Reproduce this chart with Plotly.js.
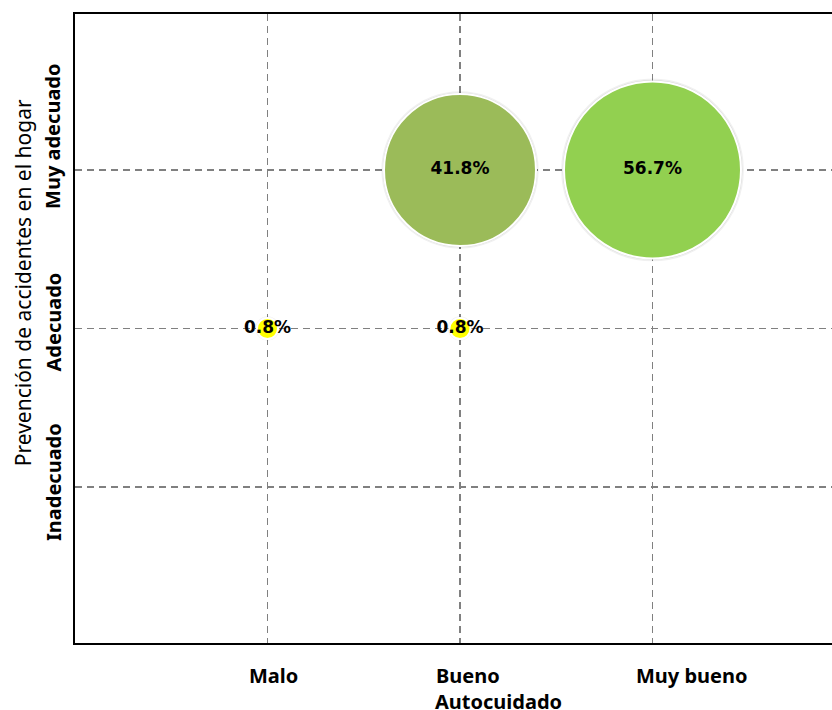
<!DOCTYPE html>
<html>
<head>
<meta charset="utf-8">
<script src="https://cdn.plot.ly/plotly-3.0.1.min.js"></script>
<style>
  html, body { margin: 0; padding: 0; overflow: hidden; background: #ffffff; }
  #chart { width: 850px; height: 710px; }
</style>
</head>
<body>
<div id="chart"></div>
<script>
// Category labels of both axes
const autocuidadoLevels = ['Malo', 'Bueno', 'Muy bueno'];
const prevencionLevels = ['Inadecuado', 'Adecuado', 'Muy adecuado'];

// One bubble per combination that has cases
const bubbleAutocuidado = ['Malo', 'Bueno', 'Bueno', 'Muy bueno'];
const bubblePrevencion = ['Adecuado', 'Adecuado', 'Muy adecuado', 'Muy adecuado'];
const bubblePercent = [0.8, 0.8, 41.8, 56.7];
const bubbleColors = ['#FFFF00', '#FFFF00', '#9BBB59', '#92D050'];

const xs = bubbleAutocuidado.map(c => autocuidadoLevels.indexOf(c) + 1);
const ys = bubblePrevencion.map(c => prevencionLevels.indexOf(c) + 1);
const labels = bubblePercent.map(v => v.toFixed(1) + '%');

// bubble area proportional to the percentage (largest bubble ~177 px across)
const sizeRef = 2 * 56.7 / (177 * 177);

const labelFont = { family: 'Noto Sans, sans-serif', size: 21, color: '#000000' };
const boldFont = { family: 'Noto Sans, sans-serif', size: 20, color: '#000000', weight: 'bold' };

const traces = [
  { // soft shadow round each bubble
    type: 'scatter', mode: 'markers', x: xs, y: ys, hoverinfo: 'skip',
    marker: { size: bubblePercent, sizemode: 'area', sizeref: sizeRef * 0.97, opacity: 1,
              color: 'rgba(0,0,0,0.10)', line: { color: 'rgba(0,0,0,0.06)', width: 3 } }
  },
  {
    type: 'scatter', mode: 'markers+text', x: xs, y: ys,
    text: labels, textposition: 'middle center',
    textfont: { family: 'DejaVu Sans', size: 17, color: '#000000', weight: 'bold' },
    marker: { size: bubblePercent, sizemode: 'area', sizeref: sizeRef, opacity: 1,
              color: bubbleColors, line: { color: '#ffffff', width: 2 } },
    cliponaxis: false
  }
];

// tick labels are placed individually
const xLabelShift = [6, 8, 39];
const yLabelShift = [5, 6, 33];
const annotations = [];
autocuidadoLevels.forEach((lab, i) => annotations.push({
  text: lab, xref: 'x', yref: 'paper', x: i + 1, y: 0, xshift: xLabelShift[i], yshift: -32,
  xanchor: 'center', yanchor: 'middle', showarrow: false, font: boldFont
}));
prevencionLevels.forEach((lab, i) => annotations.push({
  text: lab, xref: 'paper', yref: 'y', x: 0, y: i + 1, xshift: -22, yshift: yLabelShift[i],
  textangle: -90, xanchor: 'center', yanchor: 'middle', showarrow: false, font: boldFont
}));
annotations.push({
  text: 'Autocuidado', xref: 'paper', yref: 'paper', x: 0.5506, y: 0, yshift: -43,
  xanchor: 'center', yanchor: 'top', showarrow: false, font: boldFont
});
annotations.push({
  text: 'Prevención de accidentes en el hogar', xref: 'paper', yref: 'paper',
  x: 0, y: 0.572, xshift: -52, textangle: -90, xanchor: 'center', yanchor: 'middle',
  showarrow: false, font: labelFont
});

const layout = {
  width: 850, height: 710,
  margin: { l: 75, r: 5, t: 14, b: 67 },
  paper_bgcolor: '#ffffff', plot_bgcolor: '#ffffff',
  showlegend: false,
  xaxis: {
    range: [0, 4], tickvals: [1, 2, 3], showticklabels: false, ticks: '',
    showgrid: true, gridcolor: '#808080', gridwidth: 1.8, griddash: '7px,5px',
    zeroline: false, showline: true, linecolor: '#000000', linewidth: 2, mirror: true
  },
  yaxis: {
    range: [0.016, 3.984], tickvals: [1, 2, 3], showticklabels: false, ticks: '',
    showgrid: true, gridcolor: '#808080', gridwidth: 1.8, griddash: '7px,5px',
    zeroline: false, showline: true, linecolor: '#000000', linewidth: 2, mirror: true
  },
  annotations: annotations
};

Plotly.newPlot('chart', traces, layout, { displayModeBar: false, staticPlot: true });
</script>
</body>
</html>
